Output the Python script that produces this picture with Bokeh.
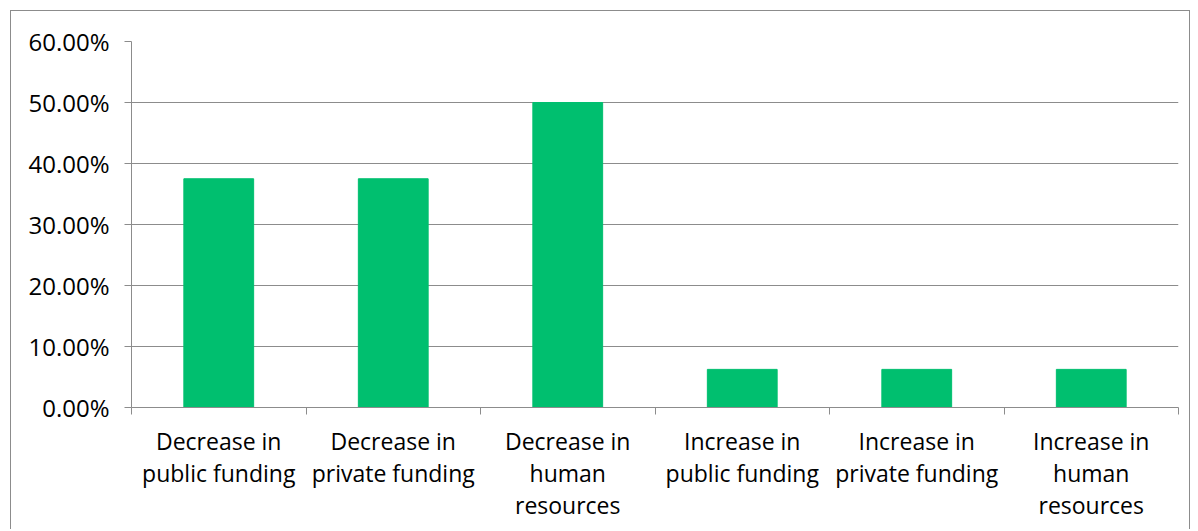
from bokeh.plotting import figure
from bokeh.models import (Range1d, LinearAxis, FixedTicker, NumeralTickFormatter,
                          ColumnDataSource)
from bokeh.embed import file_html
from bokeh.resources import INLINE

categories = ["Decrease in\npublic funding", "Decrease in\nprivate funding",
              "Decrease in\nhuman\nresources", "Increase in\npublic funding",
              "Increase in\nprivate funding", "Increase in\nhuman\nresources"]
shares = [0.375, 0.375, 0.50, 0.0625, 0.0625, 0.0625]
y_ticks = [0.0, 0.1, 0.2, 0.3, 0.4, 0.5, 0.6]

FONT = "Open Sans"
GRAY = "#8c8c8c"
GREEN = "#00BF6F"

n = len(categories)
centers = [i + 0.5 for i in range(n)]
edges = list(range(n + 1))
src = ColumnDataSource(dict(x=centers, top=shares, cat=categories))

p = figure(x_range=Range1d(0, n), y_range=Range1d(0, 0.6),
           width=1180, height=519, output_backend="svg", toolbar_location=None,
           x_axis_location=None, y_axis_location=None,
           min_border_left=120, min_border_right=13, min_border_top=30,
           min_border_bottom=123)
p.margin = (10, 0, 0, 10)
p.styles = {"border-left": f"1px solid {GRAY}", "border-top": f"1px solid {GRAY}",
            "border-right": f"1px solid {GRAY}"}
p.outline_line_color = None
p.background_fill_color = "white"
p.border_fill_color = "white"

p.vbar(x="x", top="top", width=0.4, color=GREEN, source=src)

# y axis
yax = LinearAxis(ticker=FixedTicker(ticks=y_ticks),
                 formatter=NumeralTickFormatter(format="0.00%"))
yax.axis_line_color = GRAY
yax.major_tick_line_color = GRAY
yax.major_tick_in = 0
yax.major_tick_out = 7
yax.minor_tick_line_color = None
yax.major_label_text_font = FONT
yax.major_label_text_font_size = "24px"
yax.major_label_text_color = "black"
yax.major_label_standoff = 15
p.add_layout(yax, "left")

# x axis: labels at category centres, tick marks at category boundaries
xax = LinearAxis(ticker=FixedTicker(ticks=centers, minor_ticks=edges),
                 major_label_overrides={c: lab for c, lab in zip(centers, categories)})
xax.axis_line_color = GRAY
xax.major_tick_line_color = None
xax.major_tick_in = 0
xax.major_tick_out = 7
xax.minor_tick_line_color = GRAY
xax.minor_tick_in = 0
xax.minor_tick_out = 7
xax.major_label_text_font = FONT
xax.major_label_text_font_size = "23px"
xax.major_label_text_color = "black"
xax.major_label_text_line_height = 1.0
xax.major_label_standoff = 10
p.add_layout(xax, "below")

p.xgrid.grid_line_color = None
p.ygrid.grid_line_color = GRAY
p.ygrid.ticker = FixedTicker(ticks=y_ticks)

open("out.html", "w").write(file_html(p, INLINE))
